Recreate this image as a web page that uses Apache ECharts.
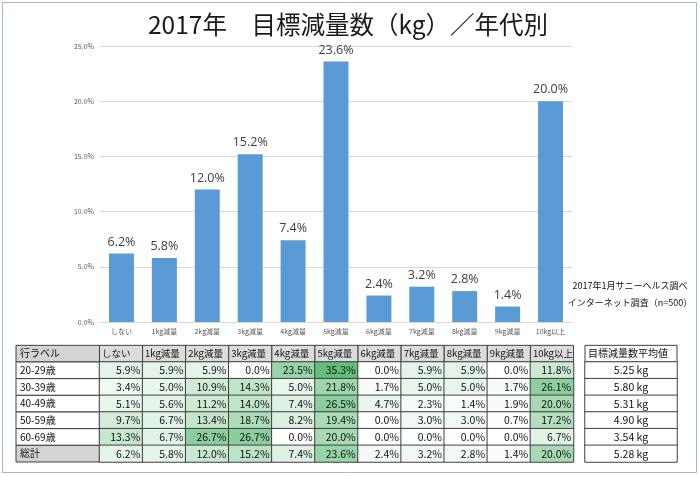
<!DOCTYPE html>
<html><head><meta charset="utf-8">
<script src="https://cdn.jsdelivr.net/npm/echarts@6/dist/echarts.min.js"></script>
<style>html,body{margin:0;padding:0;background:#fff}#c{width:700px;height:477px}</style>
</head><body><div id="c"></div>
<script>
const titleText = '2017年　目標減量数（kg）／年代別';
const categories = ['しない','1kg減量','2kg減量','3kg減量','4kg減量','5kg減量','6kg減量','7kg減量','8kg減量','9kg減量','10kg以上'];
const rowLabels = ['20-29歳','30-39歳','40-49歳','50-59歳','60-69歳','総計'];
const row20s = [5.9, 5.9, 5.9, 0.0, 23.5, 35.3, 0.0, 5.9, 5.9, 0.0, 11.8];
const row30s = [3.4, 5.0, 10.9, 14.3, 5.0, 21.8, 1.7, 5.0, 5.0, 1.7, 26.1];
const row40s = [5.1, 5.6, 11.2, 14.0, 7.4, 26.5, 4.7, 2.3, 1.4, 1.9, 20.0];
const row50s = [9.7, 6.7, 13.4, 18.7, 8.2, 19.4, 0.0, 3.0, 3.0, 0.7, 17.2];
const row60s = [13.3, 6.7, 26.7, 26.7, 0.0, 20.0, 0.0, 0.0, 0.0, 0.0, 6.7];
const totals = [6.2, 5.8, 12.0, 15.2, 7.4, 23.6, 2.4, 3.2, 2.8, 1.4, 20.0];
const averages = [5.25, 5.80, 5.31, 4.90, 3.54, 5.28];
const cornerLabel = '行ラベル';
const avgHeader = '目標減量数平均値';
const noteLines = ['2017年1月サニーヘルス調べ', 'インターネット調査（n=500）'];
const yMin = 0, yMax = 25, yStep = 5;

const rows = [row20s, row30s, row40s, row50s, row60s, totals];
const cellData = [];
rows.forEach((r, ri) => r.forEach((v, ci) => cellData.push([ci, ri, v])));
const avgData = averages.map((v, i) => [0, i, v]);

const JP = '"Noto Sans CJK JP", "Noto Sans", sans-serif';
const G = {left: 99.5, top: 362, width: 474, height: 100};
const G2 = {left: 585, top: 362, width: 92, height: 100};

const chart = echarts.init(document.getElementById('c'), null, {renderer: 'canvas'});
const option = {
  animation: false,
  backgroundColor: '#fff',
  textStyle: {fontFamily: JP},
  title: {
    text: titleText, left: 343, top: 7, textAlign: 'center',
    textStyle: {fontSize: 24.5, fontWeight: 'normal', color: '#1a1a1a', fontFamily: JP}
  },
  grid: [
    {left: 100, top: 46, width: 472, height: 276},
    Object.assign({}, G),
    Object.assign({}, G2)
  ],
  xAxis: [
    {type: 'category', gridIndex: 0, data: categories,
     axisTick: {show: false}, axisLine: {lineStyle: {color: '#d9d9d9'}},
     axisLabel: {fontSize: 7, color: '#595959', margin: 6, interval: 0}},
    {type: 'category', gridIndex: 1, data: categories, show: false},
    {type: 'category', gridIndex: 2, data: [avgHeader], show: false}
  ],
  yAxis: [
    {type: 'value', gridIndex: 0, min: yMin, max: yMax, interval: yStep,
     axisLabel: {fontSize: 7, color: '#595959', margin: 6, formatter: v => v.toFixed(1) + '%'},
     axisLine: {show: false}, axisTick: {show: false},
     splitLine: {lineStyle: {color: '#d9d9d9'}}},
    {type: 'category', gridIndex: 1, data: rowLabels, inverse: true, show: false},
    {type: 'category', gridIndex: 2, data: rowLabels, inverse: true, show: false}
  ],
  visualMap: {
    show: false, type: 'continuous', seriesIndex: 1, dimension: 2,
    min: 0, max: 35.3, inRange: {color: ['#ffffff', '#63be7b']}
  },
  series: [
    {type: 'bar', xAxisIndex: 0, yAxisIndex: 0, data: totals, barWidth: 25,
     itemStyle: {color: '#5b9bd5'},
     label: {show: true, position: 'top', distance: 5, fontSize: 12.5, color: '#404040',
             fontFamily: '"Open Sans", "Noto Sans", sans-serif',
             formatter: p => p.value.toFixed(1) + '%'}},
    {type: 'heatmap', xAxisIndex: 1, yAxisIndex: 1, data: cellData,
     itemStyle: {borderColor: '#404040', borderWidth: 1},
     emphasis: {disabled: true},
     label: {show: true, position: 'insideRight', distance: 3, fontSize: 10.5, color: '#111',
             fontFamily: JP, formatter: p => p.value[2].toFixed(1) + '%'}},
    {type: 'heatmap', xAxisIndex: 2, yAxisIndex: 2, data: avgData,
     itemStyle: {color: '#ffffff', borderColor: '#404040', borderWidth: 1},
     emphasis: {disabled: true},
     label: {show: true, position: 'inside', fontSize: 10.5, color: '#111',
             fontFamily: JP, formatter: p => p.value[2].toFixed(2) + ' kg'}}
  ]
};
chart.setOption(option);

// header cells and row labels placed from the table axes
const graphics = [];
graphics.push({type: 'rect', silent: true, shape: {x: 2.5, y: 2.5, width: 694, height: 470},
  style: {fill: null, stroke: '#a7b9cc', lineWidth: 1}});
const bw = G.width / categories.length;
const rh = G.height / rowLabels.length;
const headTop = G.top - rh;
function cell(x, y, w, h, text, fill, align, pad, fs) {
  graphics.push({type: 'rect', silent: true, shape: {x: x, y: y, width: w, height: h},
    style: {fill: fill, stroke: '#404040', lineWidth: 1}});
  graphics.push({type: 'text', silent: true,
    x: align === 'left' ? x + pad : x + w / 2, y: y + h / 2,
    style: {text: text, fontSize: fs, fontFamily: JP, fill: '#111',
            align: align, verticalAlign: 'middle'}});
}
categories.forEach((c, i) => {
  const cx = chart.convertToPixel({xAxisIndex: 1}, c);
  cell(cx - bw / 2, headTop, bw, rh, c, '#dcdcdc', 'left', 2.5, 9.5);
});
const labelLeft = 16;
cell(labelLeft, headTop, G.left - labelLeft, rh, cornerLabel, '#d4d4d4', 'left', 4, 10);
rowLabels.forEach((r, i) => {
  const cy = chart.convertToPixel({yAxisIndex: 1}, r);
  cell(labelLeft, cy - rh / 2, G.left - labelLeft, rh, r, i === rowLabels.length - 1 ? '#d4d4d4' : '#ffffff', 'left', 4, 10);
});
const ax = chart.convertToPixel({xAxisIndex: 2}, avgHeader);
cell(ax - G2.width / 2, headTop, G2.width, rh, avgHeader, '#ffffff', 'left', 3, 10);
noteLines.forEach((t, i) => {
  graphics.push({type: 'text', silent: true, x: 630, y: 286 + i * 17,
    style: {text: t, fontSize: 9, fontFamily: JP, fill: '#111', align: 'center', verticalAlign: 'middle'}});
});
chart.setOption({graphic: graphics});
</script>
</body></html>
